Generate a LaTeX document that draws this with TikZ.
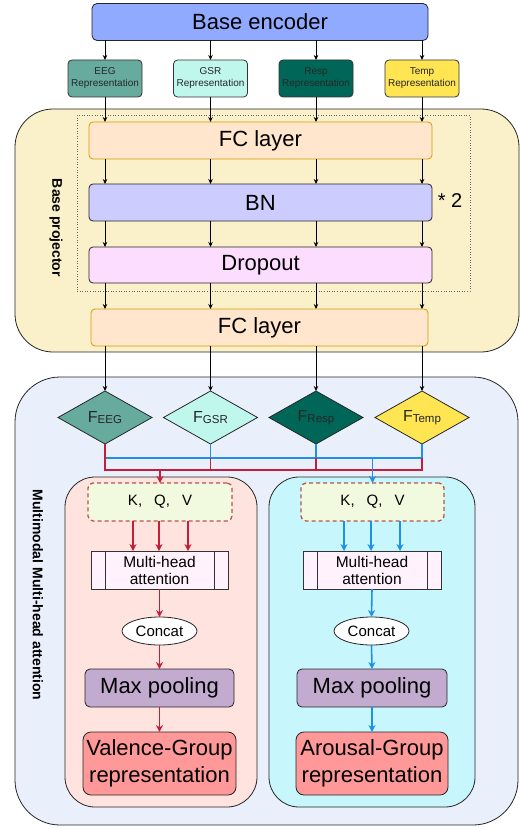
\documentclass[tikz,border=0pt]{standalone}
\usepackage{fontspec}
\setmainfont{Liberation Sans}
\usetikzlibrary{arrows.meta,shapes.geometric}

\definecolor{encfill}{HTML}{8FAAFF}
\definecolor{eegc}{HTML}{67AB9F}
\definecolor{gsrc}{HTML}{C0F7EC}
\definecolor{respc}{HTML}{006658}
\definecolor{tempc}{HTML}{FFE552}
\definecolor{projfill}{HTML}{FAF0CA}
\definecolor{fcfill}{HTML}{FFE6CC}
\definecolor{fcdraw}{HTML}{D79B00}
\definecolor{bnfill}{HTML}{CCCCFF}
\definecolor{dropfill}{HTML}{FDDDFF}
\definecolor{mmfill}{HTML}{E9EFFB}
\definecolor{valfill}{HTML}{FFE3DE}
\definecolor{arofill}{HTML}{C8F6FD}
\definecolor{kqvfill}{HTML}{F1FADF}
\definecolor{kqvdraw}{HTML}{B85450}
\definecolor{mhafill}{HTML}{FFF2FD}
\definecolor{poolfill}{HTML}{C3ABD0}
\definecolor{outfill}{HTML}{FF9999}
\definecolor{vred}{HTML}{C41E3A}
\definecolor{ablue}{HTML}{1E90E8}

\newcommand\fsz[2]{\fontsize{#1pt}{#2pt}\selectfont}
\newcommand\subF[1]{{\fsz{16}{16}F}\raisebox{-1pt}{\fsz{11.5}{12}#1}}
\newcommand\kqvtext{K,\hspace{12pt}Q,\hspace{12pt}V}

\begin{document}
\begin{tikzpicture}[x=1pt,y=-1pt,
  every node/.style={inner sep=0pt, outer sep=0pt},
  container/.style={draw=black!85, line width=0.8pt},
  layer/.style={draw=black!85, rounded corners=4pt, line width=0.8pt,
    minimum width=343pt, minimum height=37pt, font=\fsz{22}{26}},
  repbox/.style={draw=black!80, rounded corners=4pt, line width=0.8pt,
    minimum width=74pt, minimum height=37pt, align=center,
    font=\fsz{10}{12}, text=black!85},
  feat/.style={diamond, draw=black!85, line width=0.8pt,
    minimum width=94pt, minimum height=53pt, text=black!85},
  kqvbox/.style={draw=kqvdraw, fill=kqvfill, dashed, dash pattern=on 4pt off 3pt,
    line width=1.3pt, rounded corners=5pt, minimum height=38pt,
    font=\fsz{15}{18}},
  mhabox/.style={draw=black!80, fill=mhafill, line width=0.8pt,
    minimum height=38pt, align=center, font=\fsz{15.5}{17}},
  catbox/.style={ellipse, draw=black!85, fill=white, line width=0.8pt,
    minimum width=75pt, minimum height=28pt, font=\fsz{15}{18}},
  poolbox/.style={draw=black!85, fill=poolfill, rounded corners=5pt,
    line width=0.8pt, minimum height=38pt, font=\fsz{22}{26}},
  outbox/.style={draw=black!85, fill=outfill, rounded corners=8pt,
    line width=0.8pt, minimum height=63pt, align=center, font=\fsz{22}{27}},
  sidelabel/.style={rotate=-90, font=\fsz{14}{16}\bfseries},
  blk/.style={-{Stealth[length=5pt,width=4.5pt]}, line width=0.75pt},
  redln/.style={draw=vred, line width=1.6pt},
  blueln/.style={draw=ablue, line width=1.6pt},
  redarr/.style={redln, -{Stealth[length=7pt,width=7pt]}},
  bluearr/.style={blueln, -{Stealth[length=7pt,width=7pt]}}
]
\useasboundingbox (0,0) rectangle (521,829);

% ---------- containers ----------
\node[container, fill=projfill, rounded corners=38pt,
  minimum width=504pt, minimum height=243pt] (proj) at (267,230.5) {};
\node[draw=black!60, dotted, line width=0.6pt,
  minimum width=393pt, minimum height=176pt] (rep2) at (273.5,203) {};
\node[container, fill=mmfill, rounded corners=45pt,
  minimum width=503pt, minimum height=448pt] (mm) at (266.5,601) {};
\node[container, fill=valfill, rounded corners=30pt,
  minimum width=192pt, minimum height=330pt] (vpanel) at (161,642) {};
\node[container, fill=arofill, rounded corners=30pt,
  minimum width=206pt, minimum height=330pt] (apanel) at (372,642) {};

\node[sidelabel] (projlab) at (56,228) {Base projector};
\node[sidelabel] (mmlab) at (38,595) {Multimodal Multi-head attention};

% ---------- encoder and representations ----------
\node[draw=black!85, fill=encfill, rounded corners=5pt, line width=0.8pt,
  minimum width=336pt, minimum height=37pt, font=\fsz{22}{26}]
  (enc) at (260,22) {Base encoder};

\node[repbox, fill=eegc]  (rEEG)  at (105,78.5)   {EEG\\Representation};
\node[repbox, fill=gsrc]  (rGSR)  at (210.5,78.5) {GSR\\Representation};
\node[repbox, fill=respc] (rResp) at (316,78.5)   {Resp\\Representation};
\node[repbox, fill=tempc] (rTemp) at (422,78.5)   {Temp\\Representation};

% ---------- projector layers ----------
\node[layer, fill=fcfill, draw=fcdraw] (fc1) at (260.5,140.5) {FC layer};
\node[layer, fill=bnfill] (bn) at (260.5,202.5) {BN};
\node[layer, fill=dropfill, minimum height=36pt] (drop) at (260.5,265) {Dropout};
\node[layer, fill=fcfill, draw=fcdraw, minimum width=337pt] (fc2) at (259.5,327.5) {FC layer};
\node[font=\fsz{20}{24}] (times) at (450,201) {* 2};

% ---------- modality features ----------
\node[feat, fill=eegc]  (dEEG)  at (105,417.5)   {\subF{EEG}};
\node[feat, fill=gsrc]  (dGSR)  at (210.5,417.5) {\subF{GSR}};
\node[feat, fill=respc] (dResp) at (316,417.5)   {\subF{Resp}};
\node[feat, fill=tempc] (dTemp) at (422,417.5)   {\subF{Temp}};

% ---------- attention branches ----------
\node[kqvbox, minimum width=144pt] (kqvL) at (160,502) {\kqvtext};
\node[kqvbox, minimum width=143pt] (kqvR) at (372.5,502) {\kqvtext};

\node[mhabox, minimum width=137pt] (mhaL) at (159.5,570) {Multi-head\\attention};
\node[mhabox, minimum width=138pt] (mhaR) at (372,570) {Multi-head\\attention};
\foreach \m in {mhaL,mhaR}{
  \draw[draw=black!80, line width=0.8pt]
    ([xshift=14pt]\m.north west) -- ([xshift=14pt]\m.south west)
    ([xshift=-14pt]\m.north east) -- ([xshift=-14pt]\m.south east);
}

\node[catbox] (catL) at (159.5,631) {Concat};
\node[catbox] (catR) at (371.5,631) {Concat};

\node[poolbox, minimum width=149pt] (poolL) at (159.5,688) {Max pooling};
\node[poolbox, minimum width=150pt] (poolR) at (372,688) {Max pooling};

\node[outbox, minimum width=153pt] (valOut) at (159.5,763.5) {Valence-Group\\representation};
\node[outbox, minimum width=152pt] (aroOut) at (372,763.5) {Arousal-Group\\representation};

% ---------- black connectors through the shared trunk ----------
\foreach \r/\d in {rEEG/dEEG,rGSR/dGSR,rResp/dResp,rTemp/dTemp}{
  \draw[blk] (enc.south -| \r.north) -- (\r.north);
  \draw[blk] (\r.south) -- (\r.south |- fc1.north);
  \draw[blk] (fc1.south -| \r.south) -- (bn.north -| \r.south);
  \draw[blk] (bn.south -| \r.south) -- (drop.north -| \r.south);
  \draw[blk] (drop.south -| \r.south) -- (fc2.north -| \r.south);
  \draw[blk] (fc2.south -| \d.north) -- (\d.north);
}

% ---------- fan-in buses to the two branches ----------
\coordinate (bbus) at (0,458);
\coordinate (rbus) at (0,470);
\draw[blueln] (dEEG.south) -- (dEEG.south |- bbus) -- (dTemp.south |- bbus);
\draw[redln] (dEEG.south) -- (dEEG.south |- rbus) -- (dTemp.south |- rbus) -- (dTemp.south);
\draw[redln] (dResp.south) -- (dResp.south |- rbus);
\draw[redln] (dGSR.south) -- (dGSR.south |- rbus);
\draw[blueln] (dGSR.south) -- (dGSR.south |- bbus);
\draw[blueln] (dResp.south) -- (dResp.south |- bbus);
\draw[blueln] (dTemp.south) -- (dTemp.south |- bbus);
\draw[redarr] (kqvL.north |- rbus) -- (kqvL.north);
\draw[bluearr] (kqvR.north |- bbus) -- (kqvR.north);

% ---------- valence branch ----------
\foreach \dx in {-27,-1,28}{
  \draw[redarr] ([xshift=\dx pt]kqvL.south) -- ([xshift=\dx pt]kqvL.south |- mhaL.north);
}
\draw[redarr] (mhaL.south) -- (catL.north);
\draw[redarr] (catL.south) -- (poolL.north);
\draw[redarr] (poolL.south) -- (valOut.north);

% ---------- arousal branch ----------
\foreach \dx in {-28.5,-1.5,27.5}{
  \draw[bluearr] ([xshift=\dx pt]kqvR.south) -- ([xshift=\dx pt]kqvR.south |- mhaR.north);
}
\draw[bluearr] (mhaR.south) -- (catR.north);
\draw[bluearr] (catR.south) -- (poolR.north);
\draw[bluearr] (poolR.south) -- (aroOut.north);
\end{tikzpicture}
\end{document}
